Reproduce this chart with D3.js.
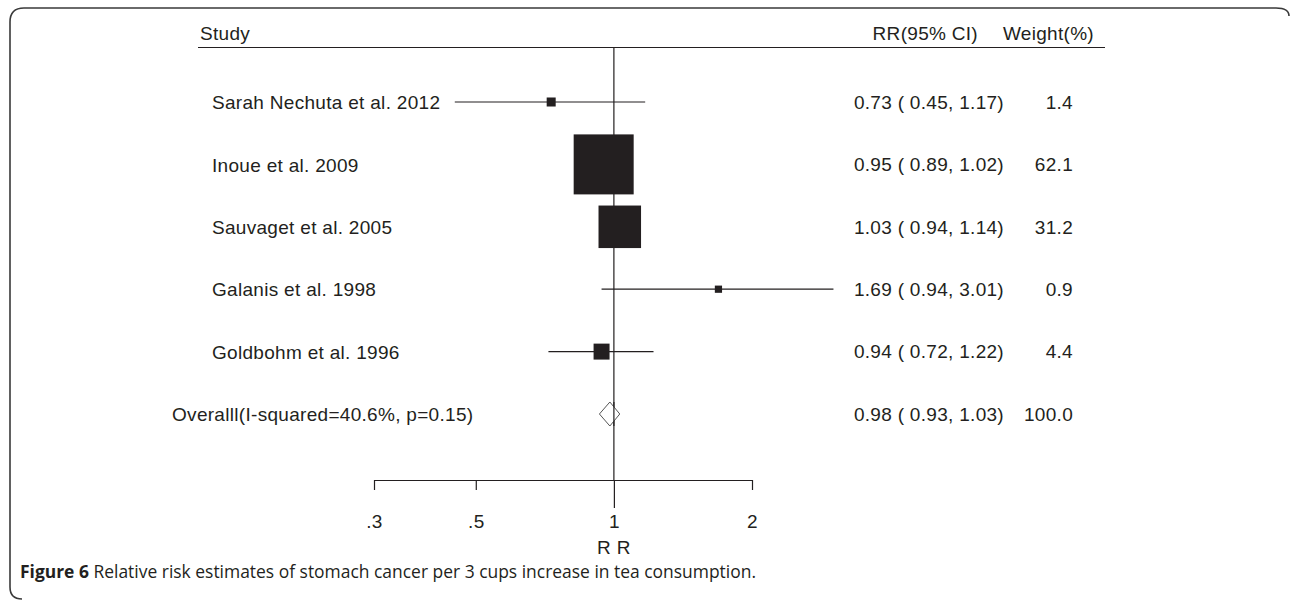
<!DOCTYPE html>
<html>
<head>
<meta charset="utf-8">
<script src="https://cdn.jsdelivr.net/npm/d3@7"></script>
<style>
  html, body { margin: 0; padding: 0; background: #fff; }
  svg { display: block; }
  .lbl { font-family: "Liberation Sans", Arial, sans-serif; font-size: 19px; letter-spacing: 0.3px; fill: #231f20; }
  .cap { font-family: "Open Sans", Lato, sans-serif; font-size: 16px; fill: #231f20; }
</style>
</head>
<body>
<script>
// Study-level relative risks of stomach cancer per 3 cups/day of tea
const studies   = ["Sarah Nechuta et al. 2012", "Inoue et al. 2009", "Sauvaget et al. 2005",
                   "Galanis et al. 1998", "Goldbohm et al. 1996"];
const rr        = [0.73, 0.95, 1.03, 1.69, 0.94];
const lower     = [0.45, 0.89, 0.94, 0.94, 0.72];
const upper     = [1.17, 1.02, 1.14, 3.01, 1.22];
const weights   = [1.4, 62.1, 31.2, 0.9, 4.4];

// Pooled estimate
const overallLabel = "Overalll(I-squared=40.6%, p=0.15)";
const overall      = { rr: 0.98, lower: 0.93, upper: 1.03, weight: 100.0 };

// Axis ticks
const tickValues = [0.3, 0.5, 1, 2];
const tickLabels = [".3", ".5", "1", "2"];

const W = 1290, H = 600;
const svg = d3.select("body").append("svg").attr("width", W).attr("height", H);

const fmt2 = d3.format(".2f");
const fmt1 = d3.format(".1f");

const x = d3.scaleLog().domain([0.3, 2]).range([374, 752]);
const rowKeys = studies.concat([overallLabel]);
const y = d3.scalePoint().domain(rowKeys).range([102, 414]);
const side = d3.scaleSqrt().domain([0, 62.1]).range([0, 60]);

const ink = "#231f20";

// Panel frame: rounded top corners, left edge running down past the caption
svg.append("path")
  .attr("d", "M22,599 Q10,599 10,587 L10,22 Q10,8 24,8 L1276,8 Q1289,8 1289,16")
  .attr("fill", "none").attr("stroke", "#3a3a3a").attr("stroke-width", 1.6);

// Header
svg.append("text").attr("class", "lbl").attr("x", 200).attr("y", 40).text("Study");
svg.append("text").attr("class", "lbl").attr("x", 978).attr("y", 40)
  .attr("text-anchor", "end").text("RR(95% CI)");
svg.append("text").attr("class", "lbl").attr("x", 1094).attr("y", 40)
  .attr("text-anchor", "end").text("Weight(%)");
svg.append("line").attr("x1", 198).attr("x2", 1105).attr("y1", 47.5).attr("y2", 47.5)
  .attr("stroke", ink).attr("stroke-width", 1.2);

// Null line at RR = 1
svg.append("line").attr("x1", x(1)).attr("x2", x(1)).attr("y1", 48).attr("y2", 480)
  .attr("stroke", ink).attr("stroke-width", 1.2);

const rows = studies.map((s, i) => ({ s, rr: rr[i], lo: lower[i], hi: upper[i], w: weights[i] }));

// Confidence intervals
svg.selectAll("line.ci").data(rows).enter().append("line")
  .attr("class", "ci")
  .attr("x1", d => x(d.lo)).attr("x2", d => x(d.hi))
  .attr("y1", d => y(d.s)).attr("y2", d => y(d.s))
  .attr("stroke", ink).attr("stroke-width", 1.2);

// Weighted point estimates
svg.selectAll("rect.box").data(rows).enter().append("rect")
  .attr("class", "box")
  .attr("x", d => x(d.rr) - side(d.w) / 2)
  .attr("y", d => y(d.s) - side(d.w) / 2)
  .attr("width", d => side(d.w)).attr("height", d => side(d.w))
  .attr("fill", ink);

// Pooled diamond
const oy = y(overallLabel), dh = 12;
svg.append("path")
  .attr("d", `M${x(overall.lower)},${oy} L${x(overall.rr)},${oy - dh} L${x(overall.upper)},${oy} L${x(overall.rr)},${oy + dh} Z`)
  .attr("fill", "#fff").attr("stroke", "#555").attr("stroke-width", 1);
svg.append("line").attr("x1", x(1)).attr("x2", x(1)).attr("y1", oy - dh).attr("y2", oy + dh)
  .attr("stroke", ink).attr("stroke-width", 1.2);

// Row labels and numbers
svg.selectAll("text.study").data(rows).enter().append("text")
  .attr("class", "lbl study").attr("x", 212).attr("y", d => y(d.s)).attr("dy", "0.38em")
  .text(d => d.s);
svg.append("text").attr("class", "lbl").attr("x", 172).attr("y", oy).attr("dy", "0.36em")
  .text(overallLabel);

const est = rows.map(d => ({ key: d.s, t: `${fmt2(d.rr)} ( ${fmt2(d.lo)}, ${fmt2(d.hi)})`, w: fmt1(d.w) }))
  .concat([{ key: overallLabel,
             t: `${fmt2(overall.rr)} ( ${fmt2(overall.lower)}, ${fmt2(overall.upper)})`,
             w: fmt1(overall.weight) }]);
svg.selectAll("text.est").data(est).enter().append("text")
  .attr("class", "lbl est").attr("x", 1004).attr("y", d => y(d.key)).attr("dy", "0.36em")
  .attr("text-anchor", "end").text(d => d.t);
svg.selectAll("text.wt").data(est).enter().append("text")
  .attr("class", "lbl wt").attr("x", 1073).attr("y", d => y(d.key)).attr("dy", "0.36em")
  .attr("text-anchor", "end").text(d => d.w);

// Log-scaled RR axis
const axis = d3.axisBottom(x).tickValues(tickValues)
  .tickFormat((d, i) => tickLabels[i]).tickSize(10).tickSizeOuter(0);
const ag = svg.append("g").attr("transform", "translate(0,480)").call(axis);
ag.select(".domain").attr("stroke", ink).attr("stroke-width", 1.2);
ag.selectAll(".tick line").attr("stroke", ink).attr("stroke-width", 1.2)
  .attr("y2", d => d === 1 ? 28 : 10);
ag.selectAll(".tick text").attr("class", "lbl").attr("fill", ink)
  .style("font-family", "Liberation Sans, Arial, sans-serif").style("font-size", "19px")
  .attr("y", 41).attr("dy", "0.36em");
svg.append("text").attr("class", "lbl").attr("x", x(1)).attr("y", 554)
  .attr("text-anchor", "middle").text("R R");

// Caption
const cap = svg.append("text").attr("class", "cap").attr("x", 20).attr("y", 578);
cap.append("tspan").attr("font-weight", "bold").text("Figure 6");
cap.append("tspan").text(" Relative risk estimates of stomach cancer per 3 cups increase in tea consumption.");
// stretch the caption font so the line spans its column
const capW = cap.node().getComputedTextLength();
cap.style("font-size", (16 * 737 / capW).toFixed(2) + "px");
</script>
</body>
</html>
